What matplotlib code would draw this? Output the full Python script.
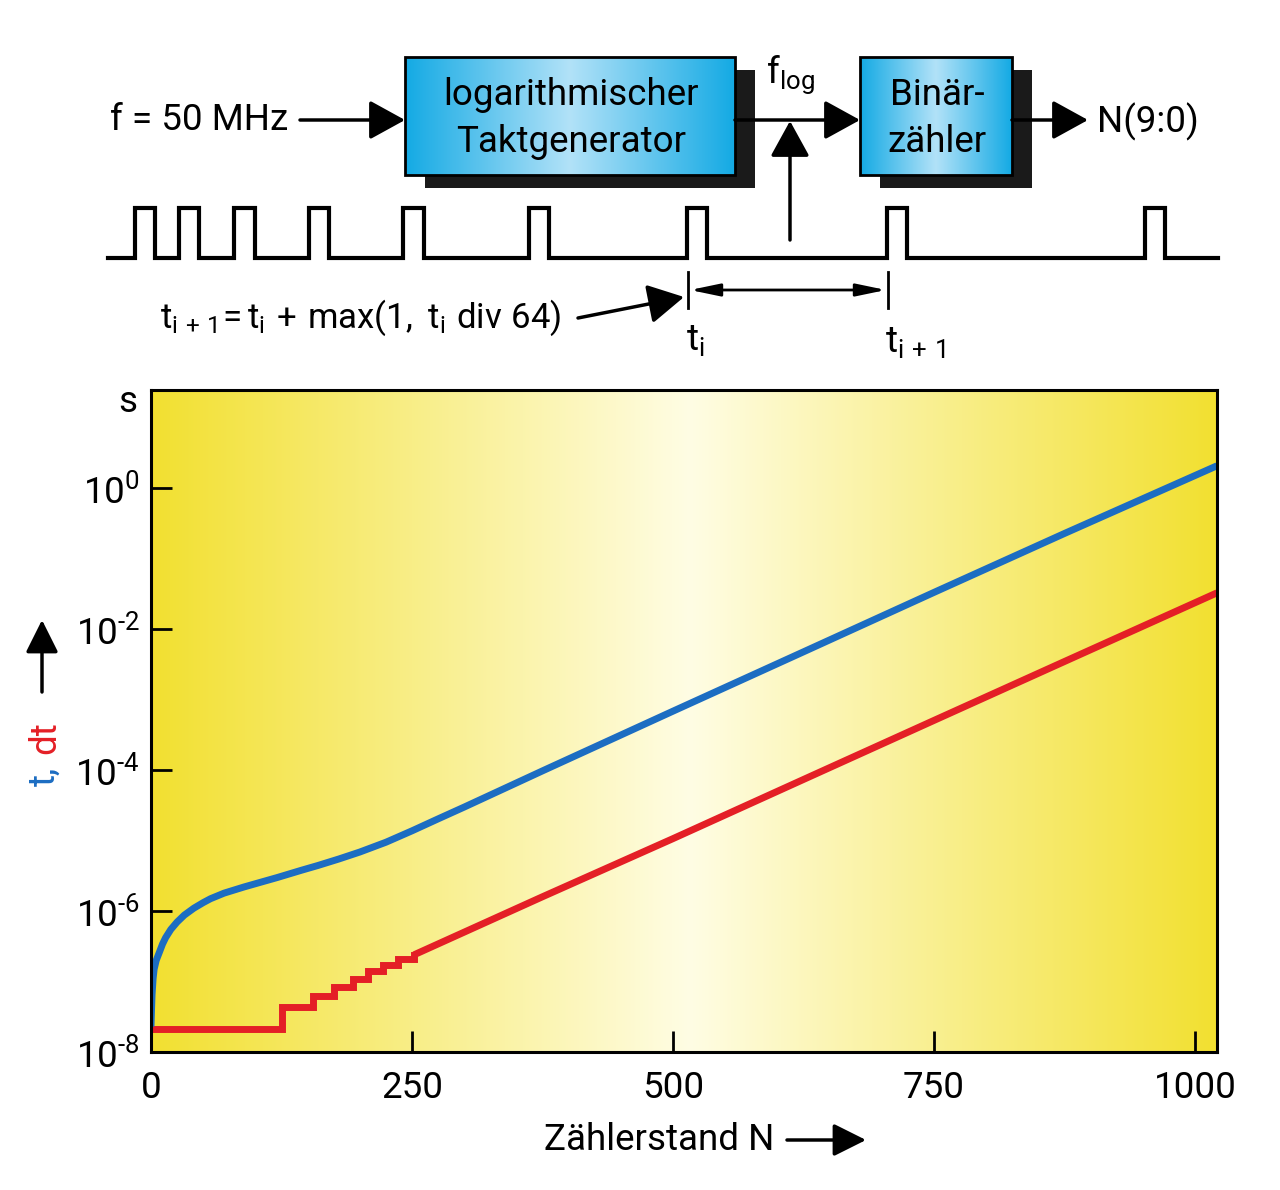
import numpy as np
import matplotlib.pyplot as plt
from matplotlib.patches import Rectangle

plt.rcParams['font.family'] = ['Roboto', 'DejaVu Sans']
plt.rcParams['mathtext.fontset'] = 'custom'
plt.rcParams['mathtext.rm'] = 'Roboto'
plt.rcParams['mathtext.it'] = 'Roboto:italic'

# Werte (Zählerstand N, Zeit in s)
blue_n = [0, 0.5, 1, 2, 3, 5, 8, 11, 14, 19, 25, 32, 41, 50, 57, 70, 89, 105, 121, 144,
          160, 180, 200, 225, 250, 275, 300, 375, 500, 625, 750, 875, 1021]
blue_t = [2.3e-8, 4e-8, 6.5e-8, 1.1e-7, 1.5e-7, 2e-7, 2.6e-7, 3.4e-7, 4.2e-7, 5.5e-7, 7e-7,
          8.8e-7, 1.1e-6, 1.32e-6, 1.5e-6, 1.8e-6, 2.2e-6, 2.57e-6, 3.0e-6, 3.8e-6,
          4.45e-6, 5.5e-6, 6.9e-6, 9.5e-6, 1.38e-5, 2.04e-5, 3.0e-5, 9.8e-5, 6.9e-4, 4.8e-3,
          3.35e-2, 0.23, 2.1]

# dt: Treppe am Anfang, danach gerade Linie
red_step_n = [0, 125, 155, 175, 193, 208, 222, 237, 252]
red_step_dt = [2.1e-8, 4.3e-8, 6.3e-8, 8.5e-8, 1.1e-7, 1.4e-7, 1.7e-7, 2.1e-7, 2.4e-7]
red_line_n = [252, 375, 500, 625, 750, 875, 1021]
red_line_dt = [2.4e-7, 1.6e-6, 1.07e-5, 7.4e-5, 5.1e-4, 3.5e-3, 3.3e-2]

x_ticks = [0, 250, 500, 750, 1000]
y_ticks = [1e-8, 1e-6, 1e-4, 1e-2, 1e0]
y_ticklabels = [r'$\mathregular{10^{\text{-}8}}$', r'$\mathregular{10^{\text{-}6}}$',
                r'$\mathregular{10^{\text{-}4}}$', r'$\mathregular{10^{\text{-}2}}$',
                r'$\mathregular{10^{0}}$']

# Pulsfolge (Flanken in Pixel) für das Schema oben
pulse_edges = [(135, 155), (179, 199), (234, 255), (309, 329), (403, 424),
               (529, 549), (687, 707), (887, 907), (1145, 1165)]

W, H = 1280, 1190
fig = plt.figure(figsize=(12.8, 11.9), dpi=100)
pos = [151 / W, 1 - 1052 / H, (1217 - 151) / W, (1052 - 390) / H]

# Hintergrund-Verlauf gelb -> weiß -> gelb
bg = fig.add_axes(pos, zorder=0)
yellow = np.array([242, 224, 48]) / 255
white = np.array([255, 253, 228]) / 255
xs = np.linspace(0, 1, 600)
c = 0.506
d = np.where(xs < c, (c - xs) / c, (xs - c) / (1 - c))
grad = white[None, :] * (1 - d[:, None]) + yellow[None, :] * d[:, None]
bg.imshow(grad[None, :, :], aspect='auto', extent=[0, 1, 0, 1])
bg.axis('off')

ax = fig.add_axes(pos, zorder=1)
ax.set_facecolor('none')
ax.plot(red_step_n, red_step_dt, color='#e41f26', lw=5, drawstyle='steps-post', solid_joinstyle='miter')
ax.plot(red_line_n, red_line_dt, color='#e41f26', lw=5, solid_capstyle='butt')
ax.plot(blue_n, blue_t, color='#1c6dc2', lw=5, solid_capstyle='butt')
ax.set_yscale('log')
ax.set_xlim(0, 1021)
ax.set_ylim(1e-8, 25)
ax.set_xticks(x_ticks)
ax.set_yticks(y_ticks)
ax.set_yticklabels(y_ticklabels)
ax.yaxis.set_minor_locator(plt.NullLocator())
ax.tick_params(axis='both', direction='in', length=15, width=2, labelsize=26.5, colors='black')
ax.tick_params(axis='x', pad=13)
ax.tick_params(axis='y', pad=8)
for sp in ax.spines.values():
    sp.set_linewidth(2.2)

# Schema und Beschriftungen in Pixelkoordinaten
ov = fig.add_axes([0, 0, 1, 1], zorder=2)
ov.set_xlim(0, W)
ov.set_ylim(H, 0)
ov.axis('off')

def block(x0, x1, y0, y1):
    ov.add_patch(Rectangle((x0 + 20, y0 + 13), x1 - x0, y1 - y0, facecolor='#1a1a1a', edgecolor='none'))
    edge = np.array([20, 170, 228]) / 255
    mid = np.array([178, 226, 248]) / 255
    u = np.linspace(-1, 1, 300)
    g = mid[None, :] * (1 - np.abs(u)[:, None]) + edge[None, :] * np.abs(u)[:, None]
    ov.imshow(g[None, :, :], aspect='auto', extent=[x0, x1, y1, y0], zorder=2)
    ov.add_patch(Rectangle((x0, y0), x1 - x0, y1 - y0, facecolor='none', edgecolor='black', lw=2, zorder=3))

block(405, 735, 57, 175)
block(860, 1012, 57, 175)

def arrow(x0, y0, x1, y1, hl=1.0, hw=0.55, lw=2.5, ms=22):
    ov.annotate('', xy=(x1, y1), xytext=(x0, y0),
                arrowprops=dict(arrowstyle='-|>,head_length=%s,head_width=%s' % (hl, hw),
                                lw=lw, color='black', mutation_scale=ms, shrinkA=0, shrinkB=0))

arrow(300, 120, 405, 120)
arrow(735, 120, 860, 120)
arrow(790, 240, 790, 121)
arrow(1012, 120, 1088, 120)
arrow(578, 318, 684, 297)

fs = 26.5
ov.text(110, 120, 'f = 50 MHz', fontsize=fs, ha='left', va='center')
ov.text(571, 95, 'logarithmischer', fontsize=fs, ha='center', va='center')
ov.text(571, 142, 'Taktgenerator', fontsize=fs, ha='center', va='center')
ov.text(790, 75, r'$\mathregular{f_{log}}$', fontsize=fs, ha='center', va='center')
ov.text(937, 95, 'Binär-', fontsize=fs, ha='center', va='center')
ov.text(937, 142, 'zähler', fontsize=fs, ha='center', va='center')
ov.text(1097, 122, 'N(9:0)', fontsize=fs, ha='left', va='center')

# Pulsfolge
px = [108]
py = [258]
for a, b in pulse_edges:
    px += [a, a, b, b]
    py += [258, 208, 208, 258]
px.append(1218)
py.append(258)
ov.plot(px, py, color='black', lw=3, solid_joinstyle='miter')

ov.text(361, 318, r'$\mathregular{t_{i\,+\,1}\!= t_i\,+\,max(1,\ t_i\ div\ 64)}$', fontsize=25, ha='center', va='center')
ov.plot([688, 688], [272, 308], color='black', lw=2)
ov.plot([888, 888], [272, 308], color='black', lw=2)
ov.annotate('', xy=(886, 290), xytext=(690, 290),
            arrowprops=dict(arrowstyle='<|-|>,head_length=1.2,head_width=0.25', lw=2,
                            color='black', mutation_scale=15, shrinkA=0, shrinkB=0))
ov.text(695, 340, r'$\mathregular{t_i}$', fontsize=fs, ha='center', va='center')
ov.text(915, 342, r'$\mathregular{t_{i\,+\,1}}$', fontsize=fs, ha='center', va='center')

# Achsenbeschriftungen
ov.text(128, 402, 's', fontsize=fs, ha='center', va='center')
ov.text(45, 776, 't,', fontsize=fs, color='#1c6dc2', rotation=90, ha='center', va='center')
ov.text(45, 738, 'dt', fontsize=fs, color='#e41f26', rotation=90, ha='center', va='center')
arrow(42, 692, 42, 620, hl=1.0, hw=0.5, lw=2.5, ms=20)
ov.text(659, 1140, 'Zählerstand N', fontsize=fs, ha='center', va='center')
arrow(787, 1140, 866, 1140, hl=1.0, hw=0.5, lw=2.5, ms=20)

fig.savefig('out.png', dpi=100)
